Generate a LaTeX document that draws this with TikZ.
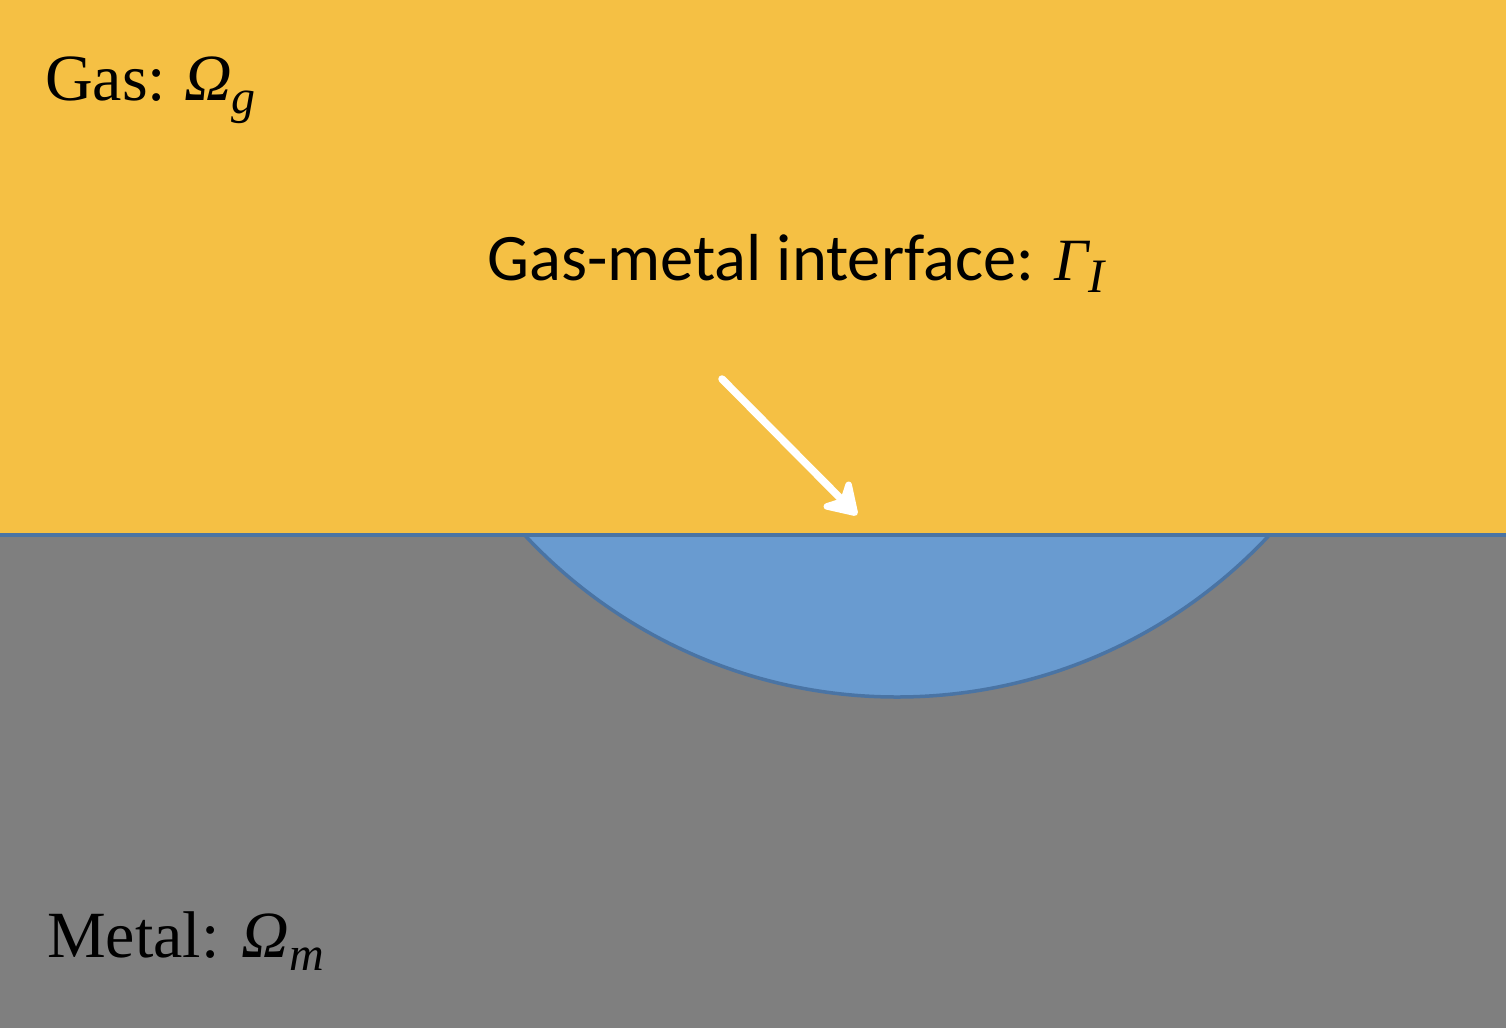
\documentclass[tikz,border=0pt]{standalone}
\usepackage{fontspec}
\newfontfamily\calibri{Carlito}
\newfontfamily\cambria{Liberation Serif}
\usetikzlibrary{arrows.meta}
\definecolor{gasY}{HTML}{F5C044}
\definecolor{metalG}{HTML}{7F7F7F}
\definecolor{poolB}{HTML}{699BD0}
\definecolor{edgeB}{HTML}{4A74A4}
\newcommand{\symsub}[2]{{\cambria\itshape #1\raisebox{-0.2em}{\fontsize{48}{52}\selectfont #2}}}
\tikzset{
  lbl/.style={anchor=base west, inner sep=0pt, text=black},
  serif/.style={lbl, font=\cambria\fontsize{66}{72}\selectfont},
  sans/.style={lbl, font=\calibri\fontsize{66.5}{72}\selectfont},
  pointer/.style={draw=white, line width=7.5, line cap=round,
    -{Stealth[length=38, width=48, inset=12, round]}}
}
\begin{document}
\begin{tikzpicture}[x=1pt, y=-1pt]
\useasboundingbox (0,0) rectangle (1506,1028);
\fill[gasY] (0,0) rectangle (1506,535);
\fill[metalG] (0,535) rectangle (1506,1028);
\begin{scope}
  \clip (0,535) rectangle (1506,1028);
  \fill[poolB, draw=edgeB, line width=3.5] (897,188) circle[radius=509];
\end{scope}
\draw[edgeB, line width=3.5] (0,535) -- (1506,535);
\node[serif] (gas) at (45,100) {Gas:\hspace{18pt}\symsub{Ω}{g}};
\node[sans] (iface) at (487,280) {Gas-metal interface: {\fontsize{60}{64}\selectfont\symsub{Γ}{I}}};
\node[serif] (metal) at (47,957) {Metal:\hspace{22pt}\symsub{Ω}{m}};
\coordinate (from) at (722,379);
\coordinate (to) at (857,515);
\draw[pointer] (from) -- (to);
\end{tikzpicture}
\end{document}
